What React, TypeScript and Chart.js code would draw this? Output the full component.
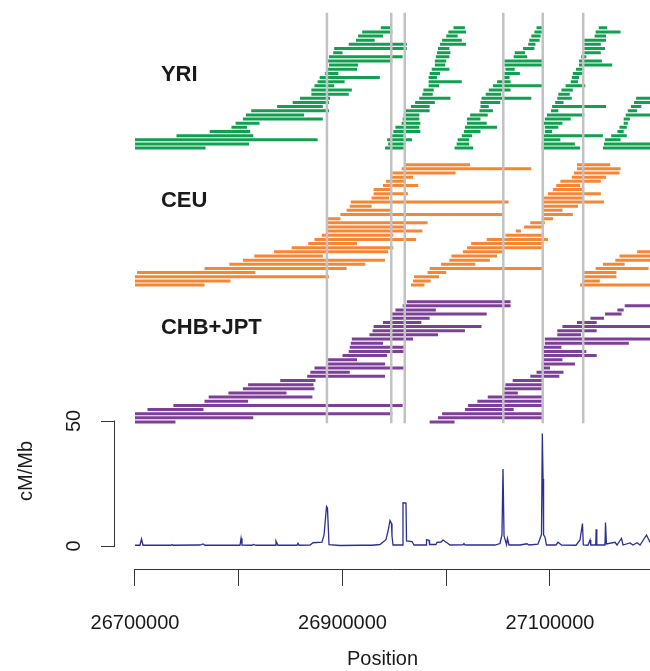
import React, { useEffect, useRef } from 'react';
import { Chart, registerables } from 'chart.js';

Chart.register(...registerables);

const FONT = '"Liberation Sans", Arial, Helvetica, sans-serif';
const TEXT_COLOR = '#1a1a1a';
const AXIS_COLOR = '#333333';
const KB = 1000;

// x axis (genomic position, bp)
const X_MIN = 26680723;
const X_MAX = 27196386;
const X_TICKS = [26700000, 26800000, 26900000, 27000000, 27100000];
const X_LABELED = [26700000, 26900000, 27100000];

// recombination-rate axis
const RATE_TICKS = [0, 50];

// hotspot guide lines (kb) and their vertical extent in haplotype rows
const HOTSPOTS_KB = [26885, 26947, 26960, 27055, 27093, 27132];
const HOTSPOT_ROW_SPAN = [-0.3, 98.6];

// populations
const POPULATIONS = ['YRI', 'CEU', 'CHB+JPT'];
const POP_COLORS = ['#12a050', '#f58634', '#7e3f98'];
const POP_BASE_ROW = [66, 33, 0];
const POP_LABEL_ROW = [17.7, 20.25, 22.7];
const LABEL_X = 26725000;

// ---- YRI haplotype segments (kb); each block lists rows bottom -> top
const YRI_FIRST = [0, 0, 0, 0, 0];
const YRI_START = [
  [26700, 26700, 26700, 26740, 26772, 26793, 26797, 26804, 26807, 26812, 26837, 26852, 26859, 26870, 26870, 26873, 26876, 26878, 26883, 26886, 26887, 26886, 26887, 26891, 26892, 26906, 26913, 26915, 26919, 26937],
  [26941, 26944, 26943, 26947, 26949, 26951, 26957, 26958, 26959, 26961, 26966, 26970, 26974, 26977, 26978, 26983, 26983, 26983, 26984, 26986, 26989, 26989, 26990, 26991, 26992, 26994, 26996, 27000, 27002, 27007],
  [27008, 27010, 27011, 27015, 27017, 27018, 27020, 27020, 27023, 27032, 27033, 27033, 27034, 27038, 27041, 27045, 27049, 27054, 27056, 27057, 27056, 27056, 27065, 27066, 27074, 27079, 27080, 27082, 27085, 27087],
  [27092, 27092, 27094, 27094, 27095, 27095, 27094, 27095, 27097, 27101, 27102, 27105, 27107, 27108, 27111, 27115, 27120, 27121, 27122, 27125, 27128, 27128, 27130, 27133, 27133, 27133, 27133, 27143, 27144, 27147],
  [27151, 27152, 27153, 27159, 27165, 27167, 27171, 27171, 27173, 27175, 27178, 27181, 27183],
];
const YRI_END = [
  [26768, 26810, 26876, 26814, 26811, 26808, 26820, 26881, 26863, 26887, 26881, 26887, 26888, 26906, 26909, 26892, 26902, 26936, 26896, 26914, 26915, 26948, 26958, 26900, 26962, 26962, 26931, 26939, 26948, 26947],
  [26959, 26960, 26967, 26959, 26975, 26974, 26975, 26974, 26974, 26984, 26984, 26989, 27004, 26987, 26988, 26993, 27015, 26991, 26994, 27003, 26999, 27000, 27003, 27004, 27003, 27019, 27015, 27011, 27019, 27018],
  [27026, 27022, 27022, 27025, 27033, 27049, 27039, 27033, 27040, 27045, 27041, 27052, 27082, 27053, 27062, 27093, 27062, 27061, 27071, 27066, 27093, 27093, 27078, 27076, 27085, 27086, 27090, 27091, 27093, 27093],
  [27129, 27124, 27110, 27151, 27102, 27108, 27112, 27120, 27133, 27108, 27154, 27113, 27121, 27119, 27122, 27134, 27127, 27128, 27131, 27132, 27160, 27150, 27135, 27149, 27153, 27149, 27154, 27154, 27168, 27155],
  [27210, 27210, 27168, 27174, 27171, 27174, 27175, 27177, 27210, 27184, 27188, 27210, 27210],
];

// ---- CEU
const CEU_FIRST = [0, 0, 16, 0];
const CEU_START = [
  [26700, 26700, 26700, 26702, 26767, 26791, 26804, 26815, 26834, 26851, 26867, 26873, 26880, 26884, 26886, 26886, 26886, 26898, 26904, 26907, 26908, 26928, 26930, 26930, 26939, 26942, 26947, 26948, 26957, 26960],
  [26966, 26968, 26969, 26982, 26984, 26995, 27003, 27005, 27016, 27020, 27024, 27039, 27057, 27067, 27075, 27081],
  [27092, 27093, 27093, 27093, 27093, 27093, 27098, 27103, 27106, 27110, 27121, 27123, 27126, 27126],
  [27129, 27132, 27133, 27133, 27144, 27151, 27163, 27167, 27184],
];
const CEU_END = [
  [26767, 26792, 26887, 26816, 26904, 26922, 26941, 26881, 26944, 26949, 26914, 26971, 26949, 26977, 26960, 26982, 26898, 27055, 26946, 26928, 27060, 26945, 26963, 26947, 26973, 26960, 26968, 27009, 27082, 27023],
  [26979, 26985, 26993, 27000, 27093, 27028, 27042, 27049, 27056, 27093, 27093, 27098, 27092, 27072, 27093, 27095],
  [27103, 27122, 27112, 27127, 27152, 27131, 27149, 27133, 27129, 27149, 27154, 27167, 27168, 27158],
  [27210, 27148, 27164, 27164, 27195, 27172, 27210, 27210, 27210],
];

// ---- CHB+JPT
const CHB_FIRST = [0, 0, 11];
const CHB_START = [
  [26700, 26700, 26700, 26712, 26737, 26767, 26771, 26790, 26804, 26809, 26840, 26866, 26869, 26873, 26885, 26886, 26900, 26906, 26907, 26908, 26909, 26926, 26929, 26930, 26939, 26946, 26947, 26951, 26958, 26962],
  [26984, 26992, 26996, 27018, 27021, 27030, 27040, 27054, 27056, 27057, 27064],
  [27081, 27087, 27092, 27092, 27094, 27093, 27094, 27094, 27095, 27095, 27107, 27107, 27112, 27126, 27139, 27153, 27165, 27172],
];
const CHB_END = [
  [26739, 26814, 26948, 26766, 26958, 26809, 26871, 26846, 26873, 26872, 26874, 26941, 26907, 26959, 26941, 26914, 26943, 26959, 26959, 26939, 26968, 26992, 27018, 27034, 26976, 26984, 27039, 26990, 27062, 27062],
  [27008, 27093, 27093, 27065, 27093, 27092, 27093, 27069, 27092, 27093, 27093],
  [27109, 27113, 27100, 27124, 27112, 27145, 27135, 27111, 27176, 27210, 27130, 27145, 27210, 27145, 27152, 27169, 27171, 27210],
];

// ---- recombination rate (cM/Mb) at positions (kb)
const RATE_POS_KB = [
  26700.0, 26704.8, 26706.3, 26707.7, 26734.7, 26735.7, 26736.6, 26762.7, 26765.5, 26767.5,
  26801.2, 26802.2, 26803.1, 26812.8, 26814.2, 26816.6, 26835.0, 26835.9, 26837.8, 26856.1,
  26857.1, 26858.1, 26868.7, 26871.6, 26880.2, 26882.2, 26884.6, 26885.5, 26887.0, 26897.6,
  26916.9, 26928.4, 26936.1, 26941.9, 26943.9, 26945.8, 26947.2, 26947.7, 26948.7, 26957.8,
  26958.3, 26961.2, 26961.7, 26967.0, 26968.9, 26980.5, 26981.0, 26983.4, 26983.9, 26990.1,
  26991.1, 26995.0, 26996.9, 27000.7, 27003.6, 27016.1, 27017.1, 27018.1, 27047.0, 27051.8,
  27053.7, 27054.7, 27055.7, 27058.1, 27059.0, 27060.5, 27071.1, 27077.8, 27079.8, 27088.4,
  27090.4, 27091.8, 27092.6, 27093.3, 27093.8, 27095.2, 27096.6, 27105.8, 27107.7, 27111.1,
  27125.1, 27128.9, 27131.3, 27132.1, 27136.6, 27138.6, 27139.3, 27144.1, 27144.5, 27145.1,
  27153.0, 27153.5, 27154.4, 27162.7, 27164.6, 27168.9, 27170.4, 27177.1, 27180.0, 27183.9,
  27186.8, 27193.0, 27196.4,
];
const RATE_VALUES = [
  0.3, 0.3, 2.8, 0.3, 0.3, 0.6, 0.3, 0.4, 0.8, 0.3,
  0.3, 3.1, 0.4, 0.3, 0.6, 0.3, 0.3, 2.0, 0.3, 0.3,
  1.1, 0.3, 0.4, 1.3, 1.5, 4.4, 15.8, 15.2, 0.5, 0.2,
  0.3, 0.3, 0.6, 2.5, 6.0, 10.2, 9.0, 4.0, 0.4, 0.4,
  17.3, 17.2, 2.0, 1.8, 0.4, 0.4, 2.5, 2.3, 0.6, 0.6,
  1.5, 1.6, 2.4, 1.3, 0.4, 0.5, 1.0, 0.4, 0.4, 1.0,
  4.4, 30.8, 4.0, 0.5, 3.0, 0.4, 0.4, 0.9, 0.4, 0.7,
  3.0, 4.6, 45.0, 26.8, 4.5, 3.5, 0.4, 0.4, 1.5, 0.4,
  0.3, 2.4, 9.0, 0.4, 0.3, 2.4, 0.4, 0.4, 6.7, 0.4,
  0.4, 9.4, 0.8, 1.5, 0.4, 3.1, 0.4, 1.2, 0.4, 1.3,
  0.4, 4.4, 1.5,
];

type Pt = { x: number; y: number | null };

function segmentPoints(first: number[], starts: number[][], ends: number[][], base: number): Pt[] {
  const pts: Pt[] = [];
  starts.forEach((blk, b) => {
    blk.forEach((s, i) => {
      const row = base + first[b] + i;
      const e = ends[b][i];
      pts.push({ x: s * KB, y: row }, { x: e * KB, y: row }, { x: e * KB, y: null });
    });
  });
  return pts;
}

function hotspotPoints(): Pt[] {
  const pts: Pt[] = [];
  HOTSPOTS_KB.forEach((h) => {
    pts.push({ x: h * KB, y: HOTSPOT_ROW_SPAN[0] }, { x: h * KB, y: HOTSPOT_ROW_SPAN[1] }, { x: h * KB, y: null });
  });
  return pts;
}

const popData = [
  segmentPoints(YRI_FIRST, YRI_START, YRI_END, POP_BASE_ROW[0]),
  segmentPoints(CEU_FIRST, CEU_START, CEU_END, POP_BASE_ROW[1]),
  segmentPoints(CHB_FIRST, CHB_START, CHB_END, POP_BASE_ROW[2]),
];

const rAxesPlugin = {
  id: 'rAxes',
  afterDraw(chart: any) {
    const { ctx, scales } = chart;
    const xs = scales.x;
    const ys = scales.y;
    const yh = scales.yHap;
    ctx.save();
    ctx.strokeStyle = AXIS_COLOR;
    ctx.lineWidth = 1;
    // x axis line (from first tick to the right edge)
    const yb = Math.round(xs.top) + 0.5;
    ctx.beginPath();
    ctx.moveTo(xs.getPixelForValue(X_TICKS[0]) - 0.5, yb);
    ctx.lineTo(xs.getPixelForValue(X_MAX), yb);
    ctx.stroke();
    // y axis line (from 0 to 50)
    const xl = Math.round(ys.right) - 0.5;
    ctx.beginPath();
    ctx.moveTo(xl, ys.getPixelForValue(RATE_TICKS[0]) + 0.5);
    ctx.lineTo(xl, ys.getPixelForValue(RATE_TICKS[1]) - 0.5);
    ctx.stroke();
    // population names
    ctx.fillStyle = TEXT_COLOR;
    ctx.font = `bold 22px ${FONT}`;
    ctx.textAlign = 'left';
    ctx.textBaseline = 'middle';
    POPULATIONS.forEach((p, i) => {
      ctx.fillText(p, xs.getPixelForValue(LABEL_X), yh.getPixelForValue(POP_BASE_ROW[i] + POP_LABEL_ROW[i]));
    });
    ctx.restore();
  },
};

export default function App() {
  const ref = useRef<HTMLCanvasElement>(null);
  useEffect(() => {
    const canvas = ref.current;
    if (!canvas) return;
    const datasets: any[] = [
      {
        label: 'hotspots',
        data: hotspotPoints(),
        yAxisID: 'yHap',
        borderColor: '#c2c2c2',
        borderWidth: 2.5,
        pointRadius: 0,
        spanGaps: false,
        borderCapStyle: 'butt',
        clip: false,
        order: 0,
      },
      ...POPULATIONS.map((p, i) => ({
        label: p,
        data: popData[i],
        yAxisID: 'yHap',
        borderColor: POP_COLORS[i],
        borderWidth: 3,
        pointRadius: 0,
        spanGaps: false,
        borderCapStyle: 'butt',
        clip: false,
        order: 1,
      })),
      {
        label: 'cM/Mb',
        data: RATE_POS_KB.map((p, i) => ({ x: p * KB, y: RATE_VALUES[i] })),
        yAxisID: 'y',
        borderColor: '#2b2f8f',
        borderWidth: 1.3,
        pointRadius: 0,
        tension: 0,
        clip: false,
        order: 0,
      },
    ];
    const font = { family: FONT, size: 20 };
    const chart = new Chart(canvas, {
      type: 'line',
      data: { datasets },
      plugins: [rAxesPlugin],
      options: {
        animation: false,
        responsive: false,
        devicePixelRatio: 1,
        events: [],
        layout: { padding: 0 },
        plugins: { legend: { display: false }, tooltip: { enabled: false } },
        scales: {
          x: {
            type: 'linear',
            position: 'bottom',
            min: X_MIN,
            max: X_MAX,
            afterBuildTicks: (s: any) => {
              s.ticks = X_TICKS.map((v) => ({ value: v }));
            },
            afterFit: (s: any) => {
              s.height = 102;
              s.paddingLeft = 0;
              s.paddingRight = 0;
            },
            border: { display: false },
            grid: { drawOnChartArea: false, drawTicks: true, tickLength: 17, color: AXIS_COLOR, lineWidth: 1 },
            ticks: {
              autoSkip: false,
              minRotation: 0,
              maxRotation: 0,
              padding: 25,
              color: TEXT_COLOR,
              font,
              callback: (v: any) => (X_LABELED.includes(Number(v)) ? String(v) : ''),
            },
            title: { display: true, text: 'Position', color: TEXT_COLOR, font, padding: { top: 0, bottom: 0 } },
          },
          yHap: {
            type: 'linear',
            position: 'left',
            stack: 'panels',
            stackWeight: 373,
            weight: 1,
            min: 11.807,
            max: 101.687,
            display: false,
          },
          y: {
            type: 'linear',
            position: 'left',
            stack: 'panels',
            stackWeight: 196,
            weight: 0,
            min: -9.2,
            max: 69.2,
            afterBuildTicks: (s: any) => {
              s.ticks = RATE_TICKS.map((v) => ({ value: v }));
            },
            afterFit: (s: any) => {
              s.width = 115;
              s.paddingTop = 0;
              s.paddingBottom = 0;
            },
            border: { display: false },
            grid: { drawOnChartArea: false, drawTicks: true, tickLength: 14, color: AXIS_COLOR, lineWidth: 1 },
            ticks: {
              minRotation: 90,
              maxRotation: 90,
              crossAlign: 'center',
              padding: 15,
              color: TEXT_COLOR,
              font,
            },
            title: { display: true, text: 'cM/Mb', color: TEXT_COLOR, font, padding: { top: 14, bottom: 0 } },
          },
        },
      } as any,
    });
    return () => chart.destroy();
  }, []);
  return (
    <div style={{ position: 'absolute', left: 0, top: 0, width: 650, height: 671, background: '#ffffff' }}>
      <canvas ref={ref} width={650} height={671} style={{ display: 'block', width: 650, height: 671 }} />
    </div>
  );
}
